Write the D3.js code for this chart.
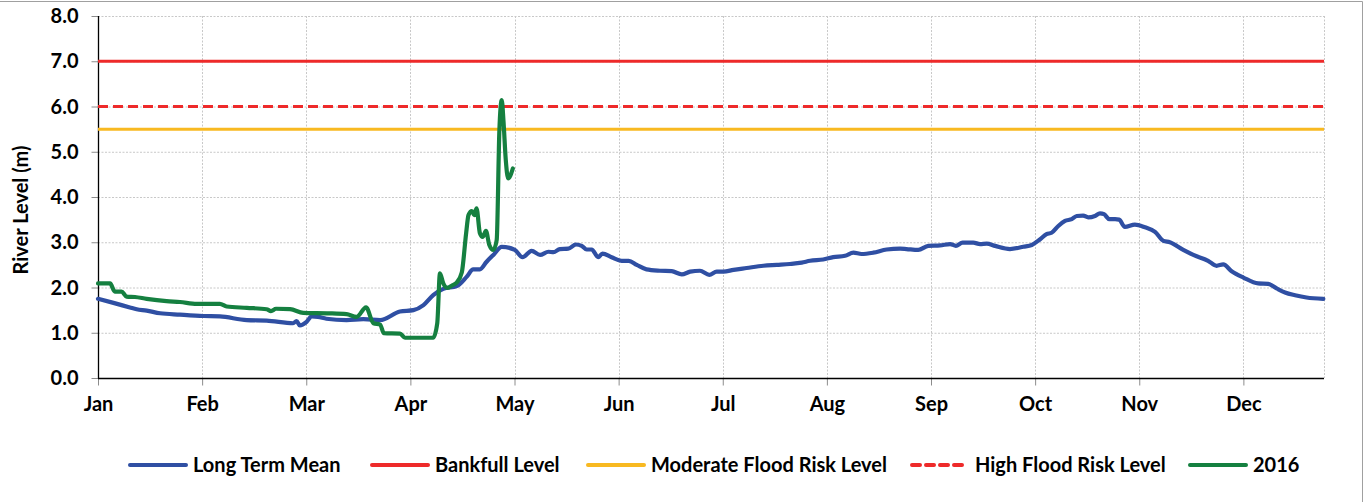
<!DOCTYPE html>
<html><head><meta charset="utf-8">
<script src="https://cdn.jsdelivr.net/npm/d3@7"></script>
<style>
html,body{margin:0;padding:0;background:#fff;}
svg text{font-family:Lato,"Open Sans",sans-serif;font-weight:bold;fill:#000;}
</style></head>
<body><svg id="c" width="1370" height="502"></svg>
<script>
// ---- data ----
const monthLabels = ["Jan","Feb","Mar","Apr","May","Jun","Jul","Aug","Sep","Oct","Nov","Dec"];
const yTicks = [0,1,2,3,4,5,6,7,8];
const bankfullLevel = 7.0;
const highFloodLevel = 6.0;
const moderateFloodLevel = 5.5;
// [day of year, level m]
const longTermMean = [[0,1.75],[4.6,1.66],[9.5,1.56],[11.5,1.52],[14.5,1.49],[18.5,1.43],[24.4,1.40],[31.4,1.37],[36.3,1.36],[44.3,1.28],[50.2,1.27],[58.1,1.21],[59.1,1.26],[60.1,1.16],[62.1,1.24],[63.6,1.36],[65.5,1.35],[68,1.31],[74,1.28],[79,1.30],[84,1.28],[89.9,1.47],[93.9,1.50],[96.9,1.61],[99.8,1.83],[102.8,1.97],[106.8,2.03],[109.8,2.24],[111.7,2.40],[113.7,2.40],[115.7,2.57],[117.7,2.72],[120.2,2.90],[124.1,2.83],[126.4,2.67],[129.1,2.81],[131.6,2.72],[134.1,2.79],[135.6,2.78],[137.5,2.85],[140,2.86],[142.3,2.95],[144,2.92],[145.5,2.84],[147,2.84],[148.9,2.67],[150.2,2.75],[152.9,2.67],[155.9,2.59],[158,2.59],[160.4,2.50],[163.3,2.40],[167.3,2.37],[170.8,2.36],[173.8,2.29],[176.3,2.35],[179.2,2.37],[182,2.28],[184.2,2.35],[186.2,2.35],[189.2,2.39],[193.1,2.43],[198.1,2.48],[202.1,2.50],[206,2.52],[209.5,2.55],[212,2.59],[215.9,2.62],[218.9,2.67],[222.4,2.70],[224.9,2.77],[227.3,2.74],[230.8,2.77],[234.8,2.84],[238.8,2.86],[240.7,2.85],[244.2,2.83],[247.2,2.92],[250.7,2.93],[253.7,2.96],[255.4,2.92],[257.4,2.99],[260.6,2.99],[262.6,2.96],[264.6,2.97],[267.1,2.92],[271.5,2.85],[275.5,2.90],[278,2.94],[280.4,3.06],[282.4,3.18],[283.9,3.21],[285.9,3.36],[287.9,3.47],[289.9,3.51],[291.4,3.58],[293.3,3.59],[294.8,3.55],[296.8,3.58],[298.3,3.64],[299.5,3.62],[301.1,3.51],[302.8,3.51],[304,3.50],[305.7,3.34],[308.7,3.39],[311.7,3.33],[314.7,3.23],[317.2,3.03],[319.1,3.00],[323.1,2.83],[326.1,2.72],[330.5,2.59],[333,2.48],[335,2.51],[337.5,2.36],[341,2.22],[345.4,2.09],[348.4,2.08],[350.9,1.98],[353.4,1.89],[356.4,1.83],[359.8,1.78],[364.8,1.75]];
const level2016 = [[0,2.09],[3.6,2.09],[5,1.91],[7,1.91],[8.5,1.80],[11,1.79],[14.5,1.75],[20.4,1.70],[24.4,1.68],[29.4,1.64],[36.3,1.64],[38.3,1.58],[44.3,1.55],[50.2,1.52],[51.5,1.48],[53,1.53],[57.2,1.52],[61.1,1.44],[69,1.43],[74,1.41],[77,1.35],[79.8,1.56],[82,1.21],[84,1.18],[85.1,0.99],[89.9,0.98],[91.4,0.89],[99.8,0.89],[101,1.21],[101.8,2.31],[102.8,2.09],[104,1.99],[105.5,2.05],[106.8,2.11],[108.3,2.33],[109.6,3.20],[110.3,3.60],[111.3,3.69],[112,3.60],[112.7,3.75],[113.7,3.20],[114.5,3.12],[115.5,3.25],[116.5,2.94],[117.7,2.83],[118.7,3.05],[119.5,5.48],[120.2,6.14],[120.7,5.70],[121.4,4.82],[122.1,4.41],[122.8,4.48],[123.5,4.63]];
const tickEveryDays = 31;
const yearDays = 365;

// ---- layout ----
const L = 98, R = 1324, T = 16, B = 378;
const FS = "20px";
const svg = d3.select("#c");
const x = d3.scaleLinear().domain([0, yearDays]).range([L, R]);
const y = d3.scaleLinear().domain([0, 8]).range([B, T]);

const colors = {mean:"#2F4FA3", bank:"#EE2A2A", mod:"#F8B921", high:"#EE2A2A", y16:"#158040"};

// outer border (top & right)
svg.append("line").attr("x1",0).attr("x2",1362.5).attr("y1",1.5).attr("y2",1.5).attr("stroke","#a0a0a0");
svg.append("line").attr("x1",1362.5).attr("x2",1362.5).attr("y1",1.5).attr("y2",502).attr("stroke","#a0a0a0");

// gridlines
const tickDays = monthLabels.map((m,i)=>i*tickEveryDays);
const g = svg.append("g");
g.selectAll(".hg").data(yTicks.filter(d=>d>0)).join("line")
  .attr("x1",L).attr("x2",R).attr("y1",d=>y(d)+0.5).attr("y2",d=>y(d)+0.5)
  .attr("stroke","#c8c8c8").attr("stroke-dasharray","2,1.5");
g.selectAll(".vg").data(tickDays.slice(1).concat([yearDays])).join("line")
  .attr("x1",d=>Math.round(x(d))+0.5).attr("x2",d=>Math.round(x(d))+0.5).attr("y1",T).attr("y2",B)
  .attr("stroke","#c8c8c8").attr("stroke-dasharray","2,1.5");

// axes
const yAxis = d3.axisLeft(y).tickValues(yTicks).tickFormat(d3.format(".1f")).tickSize(7).tickPadding(13);
const yg = svg.append("g").attr("transform",`translate(${L+0.5},0)`).call(yAxis);
yg.select(".domain").remove();
yg.selectAll(".tick line").attr("stroke","#8c8c8c");
yg.selectAll("text").attr("font-size",FS).attr("dy","0.33em");
svg.append("line").attr("x1",L+0.5).attr("x2",L+0.5).attr("y1",T).attr("y2",B+0.5).attr("stroke","#000").attr("stroke-width",1.3);

const xAxis = d3.axisBottom(x).tickValues(tickDays).tickFormat((d,i)=>monthLabels[i]).tickSize(7).tickPadding(11);
const xg = svg.append("g").attr("transform",`translate(0,${B+0.5})`).call(xAxis);
xg.select(".domain").remove();
xg.selectAll(".tick line").attr("stroke","#8c8c8c");
xg.selectAll("text").attr("font-size",FS);
svg.append("line").attr("x1",L).attr("x2",R).attr("y1",B+0.5).attr("y2",B+0.5).attr("stroke","#000").attr("stroke-width",1.3);

svg.append("text").attr("transform",`translate(28,${(T+B)/2+13}) rotate(-90)`)
  .attr("text-anchor","middle").attr("font-size",FS).text("River Level (m)");

// reference levels
const plot = svg.append("g");
function hline(v,c,dash){
  plot.append("line").attr("x1",x(0)).attr("x2",x(yearDays)).attr("y1",y(v)).attr("y2",y(v))
    .attr("stroke",c).attr("stroke-width",3).attr("stroke-dasharray",dash||null);
}
hline(bankfullLevel,colors.bank);
hline(highFloodLevel,colors.high,"10,5");
hline(moderateFloodLevel,colors.mod);

const line = d3.line().x(d=>x(d[0])).y(d=>y(d[1])).curve(d3.curveMonotoneX);
plot.append("path").attr("d",line(longTermMean)).attr("fill","none").attr("stroke",colors.mean)
  .attr("stroke-width",4.2).attr("stroke-linejoin","round").attr("stroke-linecap","round");
plot.append("path").attr("d",line(level2016)).attr("fill","none").attr("stroke",colors.y16)
  .attr("stroke-width",4.2).attr("stroke-linejoin","round").attr("stroke-linecap","round");

// legend
const legendItems = [
  {name:"Long Term Mean", c:colors.mean, dash:null, x0:130},
  {name:"Bankfull Level", c:colors.bank, dash:null, x0:372},
  {name:"Moderate Flood Risk Level", c:colors.mod, dash:null, x0:588},
  {name:"High Flood Risk Level", c:colors.high, dash:"8,6", x0:912},
  {name:"2016", c:colors.y16, dash:null, x0:1190}
];
const ly = 465;
const lg = svg.append("g");
legendItems.forEach(it=>{
  lg.append("line").attr("x1",it.x0).attr("x2",it.x0+56).attr("y1",ly).attr("y2",ly)
    .attr("stroke",it.c).attr("stroke-width",4).attr("stroke-linecap","round").attr("stroke-dasharray",it.dash);
  lg.append("text").attr("x",it.x0+63).attr("y",ly).attr("dy","0.35em").attr("font-size",FS).text(it.name);
});
</script></body></html>
